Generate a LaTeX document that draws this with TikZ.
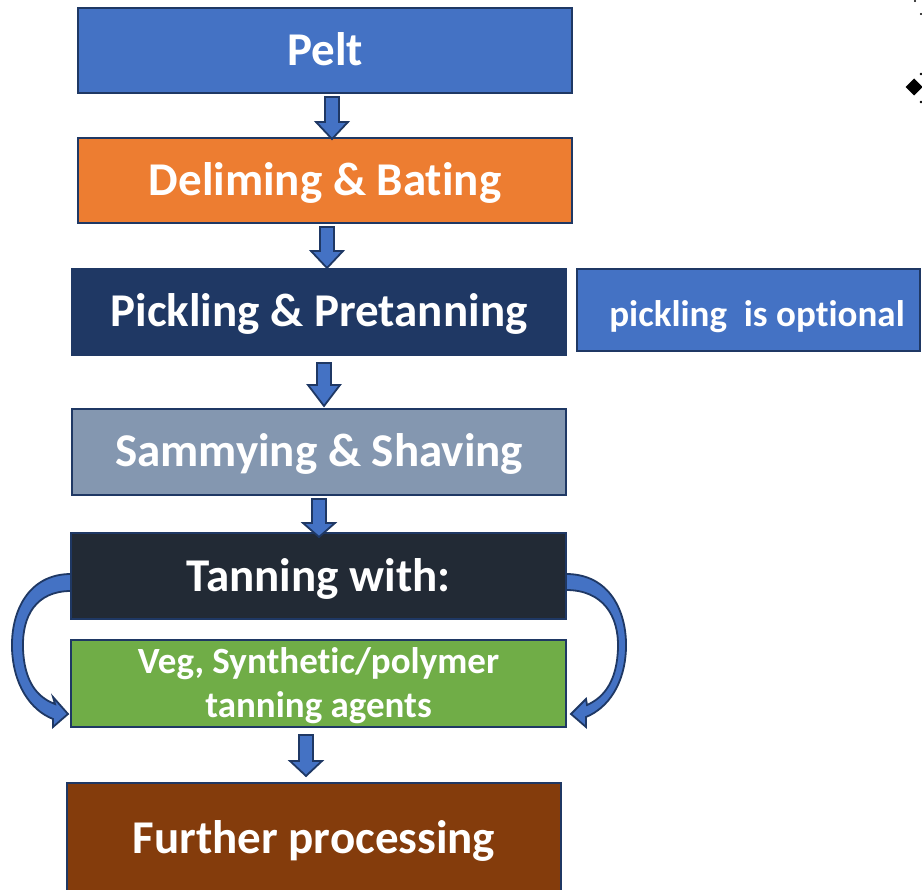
\documentclass[tikz,border=0pt]{standalone}
\usepackage{fontspec}
\setmainfont{Carlito}[Ligatures=NoCommon]
\definecolor{cpelt}{HTML}{4472C4}
\definecolor{cdelim}{HTML}{ED7D31}
\definecolor{cpick}{HTML}{1F3864}
\definecolor{csammy}{HTML}{8497B0}
\definecolor{ctan}{HTML}{222A35}
\definecolor{cveg}{HTML}{70AD47}
\definecolor{cfurther}{HTML}{843C0C}
\definecolor{cborder}{HTML}{1F3864}
\newcommand{\dnarrow}[4]{% x, top, base, tip
  \draw[arrowshape] (#1-7,#2) -- (#1+7,#2) -- (#1+7,#3) -- (#1+16,#3) -- (#1,#4) -- (#1-16,#3) -- (#1-7,#3) -- cycle;}
\begin{document}
\begin{tikzpicture}[x=1pt,y=-1pt,
  box/.style={draw=cborder, line width=2pt, inner sep=0pt, outer sep=0pt,
    minimum width=494pt, minimum height=85pt, text=white,
    font=\fontsize{47}{52}\selectfont\bfseries, text height=30pt, text depth=0pt},
  lbl/.style={font=\fontsize{37}{44}\selectfont\bfseries, text=white, align=center, inner sep=0pt},
  arrowshape/.style={draw=cborder, line width=1.8pt, fill=cpelt, line join=miter}]
\useasboundingbox (0,0) rectangle (922,890);
\node[box, fill=cpelt] (pelt) at (325,50.5) {Pelt};
\node[box, fill=cdelim] (delim) at (325,180.5) {Deliming \& Bating};
\node[box, fill=cpick, minimum height=86pt] (pick) at (319,312) {Pickling \& Pretanning};
\node[box, fill=cpelt, minimum width=343pt, minimum height=82pt] (opt) at (748.5,310) {};
\node[lbl, text height=25pt, text depth=0pt, anchor=base] (opttxt) at (757,327) {pickling\ \ is optional};
\node[box, fill=csammy, minimum height=86pt] (sammy) at (319,452) {Sammying \& Shaving};
\node[box, fill=ctan, minimum width=495pt, minimum height=86pt] (tan) at (318.5,576) {Tanning with:};
\node[box, fill=cveg, minimum width=495pt, minimum height=87pt] (veg) at (318.5,683.5) {};
\node[lbl] (vegtxt) at (318.5,685.5) {Veg, Synthetic/polymer\\tanning agents};
\node[box, fill=cfurther, minimum height=110pt] (further) at (314,838) {Further processing};
% straight block arrows
\dnarrow{332}{97}{122}{139}
\dnarrow{327}{227}{251}{268}
\dnarrow{324}{363}{385}{406}
\dnarrow{319}{499}{523}{537}
\dnarrow{306}{735}{761}{776}
% curved arrows
\draw[arrowshape] (tan.west |- 0,574) .. controls (28,574) and (11,612) .. (12,648)
  .. controls (13,684) and (30,710) .. (53,719) -- (53,727) -- (68,714) -- (53,697)
  -- (55,704) .. controls (36,697) and (24,680) .. (23,648)
  .. controls (22,616) and (36,591) .. (tan.west |- 0,591) -- cycle;
\draw[arrowshape] (tan.east |- 0,574) .. controls (610,574) and (627,612) .. (626,648)
  .. controls (625,684) and (608,708) .. (586,717) -- (586,727) -- (571,714) -- (586,699)
  -- (587,705) .. controls (605,697) and (617,680) .. (618,648)
  .. controls (619,616) and (603,590) .. (tan.east |- 0,590) -- cycle;
% fragment top right
\fill[black] (914,78.5) -- (922.5,87) -- (914,95.5) -- (905.5,87) -- cycle;
\fill[black] (921,74) circle (1.3pt);
\fill[black] (921,102) circle (1.3pt);
\fill[black] (915,1) circle (1.2pt);
\fill[black] (921,14) circle (1.2pt);
\end{tikzpicture}
\end{document}
